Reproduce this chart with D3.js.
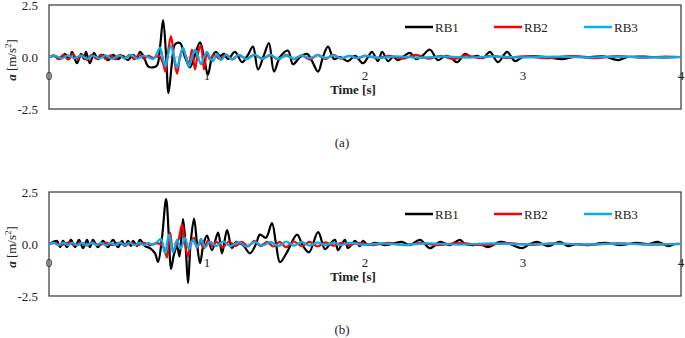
<!DOCTYPE html>
<html>
<head>
<meta charset="utf-8">
<script src="https://cdn.jsdelivr.net/npm/d3@7"></script>
<style>
  body { margin: 0; background: #fff; }
  text { font-family: "Liberation Serif", "Times New Roman", serif; fill: #222; }
</style>
</head>
<body>
<div id="chart"></div>
<script>
// series names and x ticks
var seriesNames = ["RB1", "RB2", "RB3"];
var xTicks = [0, 1, 2, 3, 4];
var yTicks = [2.5, 0, -2.5];

// panel (a) : [time s, acceleration m/s2]
var rb1A = [[0,0],[0.038,0.05],[0.070,-0.1],[0.101,0.15],[0.127,-0.1],[0.146,0.25],[0.177,-0.3],[0.203,0.15],[0.222,-0.1],[0.234,0.25],[0.259,-0.3],[0.285,0.2],[0.310,-0.1],[0.342,0.1],[0.373,-0.15],[0.405,0.1],[0.437,-0.1],[0.468,0.05],[0.500,-0.15],[0.532,0.1],[0.557,-0.05],[0.576,0.25],[0.601,0.0],[0.627,-0.45],[0.658,-0.5],[0.684,-0.4],[0.703,0.5],[0.722,1.78],[0.741,0.1],[0.756,-1.73],[0.778,-0.3],[0.797,0.6],[0.829,0.67],[0.861,0.0],[0.892,-0.5],[0.924,0.1],[0.956,0.7],[0.981,0.0],[1.006,-0.85],[1.032,0.0],[1.057,0.25],[1.082,0.05],[1.108,0.15],[1.133,-0.1],[1.177,0.25],[1.222,-0.25],[1.259,0.1],[1.291,0.5],[1.323,-0.6],[1.361,0.1],[1.392,0.67],[1.424,-0.7],[1.462,0.0],[1.513,0.3],[1.544,-0.35],[1.589,0.0],[1.633,0.15],[1.665,-0.2],[1.703,-0.7],[1.734,0.0],[1.766,0.5],[1.804,-0.1],[1.842,0.0],[1.892,-0.2],[1.937,0.05],[1.987,-0.3],[2.019,0.0],[2.044,0.25],[2.082,-0.2],[2.108,0.25],[2.146,-0.2],[2.177,0.0],[2.209,-0.15],[2.247,0.05],[2.285,0.2],[2.323,-0.1],[2.361,0.05],[2.411,0.35],[2.462,-0.15],[2.506,0.05],[2.538,0.0],[2.582,-0.25],[2.633,0.15],[2.671,0.0],[2.709,0.05],[2.747,-0.05],[2.791,0.25],[2.842,-0.25],[2.899,0.25],[2.949,-0.2],[3.0,0.0],[3.076,0.03],[3.171,-0.03],[3.247,-0.1],[3.329,0.02],[3.424,0.0],[3.519,0.02],[3.601,-0.15],[3.665,0.0],[3.772,0.02],[3.867,-0.02],[4.0,0]];
var rb2A = [[0,0],[0.03,0.08],[0.06,-0.1],[0.09,0.1],[0.12,-0.12],[0.15,0.15],[0.18,-0.1],[0.21,0.12],[0.24,-0.15],[0.27,0.1],[0.30,-0.08],[0.33,0.12],[0.36,-0.1],[0.39,0.08],[0.42,-0.12],[0.45,0.1],[0.48,-0.08],[0.51,0.1],[0.54,-0.1],[0.57,0.12],[0.60,-0.08],[0.63,0.06],[0.66,-0.05],[0.69,0.05],[0.703,0.0],[0.722,-0.3],[0.737,-0.7],[0.753,0.2],[0.772,1.0],[0.791,0.0],[0.810,-0.8],[0.829,0.0],[0.848,0.4],[0.867,0.0],[0.886,-0.3],[0.905,0.35],[0.924,-0.6],[0.943,0.2],[0.962,0.55],[0.981,-0.6],[1.0,0.2],[1.019,-0.1],[1.044,0.12],[1.08,-0.1],[1.12,0.12],[1.16,-0.12],[1.20,0.1],[1.25,-0.1],[1.30,0.12],[1.35,-0.1],[1.40,0.1],[1.45,-0.12],[1.50,0.1],[1.55,-0.1],[1.60,0.08],[1.65,-0.12],[1.70,0.1],[1.75,-0.1],[1.80,0.1],[1.85,-0.08],[1.90,0.06],[1.95,-0.06],[2.0,0.05],[2.08,-0.05],[2.16,0.06],[2.24,-0.08],[2.32,0.1],[2.40,-0.08],[2.48,0.06],[2.56,-0.1],[2.64,0.08],[2.72,-0.06],[2.80,0.05],[2.9,-0.04],[3.0,0.03],[3.15,-0.05],[3.3,0.04],[3.45,-0.05],[3.6,0.04],[3.75,-0.03],[3.9,0.02],[4.0,0]];
var rb3A = [[0,0],[0.04,0.06],[0.08,-0.07],[0.12,0.08],[0.16,-0.06],[0.20,0.07],[0.24,-0.08],[0.28,0.06],[0.32,-0.07],[0.36,0.08],[0.40,-0.1],[0.44,0.08],[0.48,-0.06],[0.52,0.1],[0.56,-0.08],[0.60,0.06],[0.64,-0.05],[0.66,-0.1],[0.684,0.2],[0.703,0.45],[0.722,-0.1],[0.737,-0.45],[0.753,0.1],[0.772,0.55],[0.791,0.0],[0.810,-0.5],[0.829,0.0],[0.848,0.45],[0.867,0.0],[0.886,-0.45],[0.905,0.0],[0.924,0.35],[0.943,0.0],[0.962,-0.35],[0.981,0.0],[1.0,0.25],[1.019,-0.05],[1.038,-0.2],[1.063,0.15],[1.089,-0.15],[1.12,0.1],[1.16,-0.12],[1.20,0.1],[1.25,-0.1],[1.30,0.12],[1.35,-0.08],[1.40,0.1],[1.45,-0.1],[1.50,0.08],[1.55,-0.1],[1.60,0.08],[1.65,-0.06],[1.70,0.1],[1.75,-0.05],[1.80,0.08],[1.85,-0.06],[1.90,0.05],[1.95,-0.05],[2.0,0.05],[2.1,-0.04],[2.2,0.03],[2.35,-0.04],[2.5,0.03],[2.65,-0.03],[2.8,0.03],[3.0,-0.02],[3.2,0.02],[3.4,-0.02],[3.6,0.02],[3.8,-0.02],[4.0,0]];

// panel (b)
var rb1B = [[0,0],[0.025,0.1],[0.051,0.15],[0.070,-0.15],[0.089,0.15],[0.114,-0.15],[0.139,0.2],[0.165,-0.15],[0.190,0.2],[0.215,-0.2],[0.241,0.2],[0.259,-0.15],[0.278,0.2],[0.310,-0.15],[0.342,0.15],[0.373,-0.15],[0.405,0.2],[0.437,-0.15],[0.462,0.15],[0.481,-0.1],[0.500,0.15],[0.519,-0.1],[0.532,0.15],[0.557,-0.1],[0.576,0.2],[0.608,-0.1],[0.639,-0.2],[0.671,-0.45],[0.690,-0.87],[0.715,0.3],[0.741,2.16],[0.759,0.3],[0.772,-1.2],[0.791,-0.5],[0.810,-0.1],[0.826,-0.6],[0.848,1.2],[0.864,0.0],[0.880,-1.88],[0.896,0.0],[0.918,1.22],[0.937,0.0],[0.956,-0.92],[0.978,0.0],[1.0,0.4],[1.032,-0.3],[1.070,0.55],[1.095,-0.45],[1.127,0.67],[1.158,-0.2],[1.184,0.1],[1.228,-0.05],[1.272,-0.45],[1.310,0.0],[1.335,0.45],[1.373,0.3],[1.411,1.0],[1.437,0.0],[1.462,-0.87],[1.506,-0.4],[1.570,0.45],[1.608,-0.1],[1.646,-0.4],[1.703,0.57],[1.747,-0.25],[1.778,0.0],[1.810,0.2],[1.829,-0.3],[1.854,0.0],[1.873,0.2],[1.892,-0.2],[1.918,0.0],[1.937,0.15],[1.968,-0.1],[1.987,0.15],[2.019,-0.05],[2.063,0.05],[2.127,-0.05],[2.190,0.05],[2.234,0.1],[2.285,-0.05],[2.348,0.2],[2.411,-0.2],[2.475,0.1],[2.538,-0.05],[2.601,0.2],[2.633,0.0],[2.684,-0.05],[2.728,0.0],[2.778,-0.15],[2.854,0.1],[2.918,0.0],[2.994,-0.2],[3.044,0.0],[3.089,0.1],[3.158,-0.1],[3.234,0.1],[3.285,-0.1],[3.342,0.0],[3.405,-0.05],[3.519,0.05],[3.614,-0.05],[3.722,0.05],[3.791,0.0],[3.854,0.1],[3.918,-0.1],[3.962,0.0],[4.0,0]];
var rb2B = [[0,0],[0.04,0.05],[0.08,-0.06],[0.12,0.07],[0.16,-0.05],[0.20,0.06],[0.24,-0.07],[0.28,0.05],[0.32,-0.06],[0.36,0.07],[0.40,-0.05],[0.44,0.06],[0.48,-0.07],[0.52,0.05],[0.56,-0.06],[0.60,0.06],[0.64,-0.05],[0.68,0.04],[0.703,0.0],[0.728,-0.2],[0.747,-0.65],[0.766,0.55],[0.785,-0.3],[0.804,-0.1],[0.823,0.3],[0.842,0.95],[0.861,0.0],[0.880,-0.6],[0.899,0.1],[0.918,0.3],[0.937,-0.2],[0.956,0.1],[0.981,-0.2],[1.006,0.15],[1.032,-0.1],[1.06,0.1],[1.10,-0.15],[1.14,0.12],[1.18,-0.1],[1.22,0.1],[1.26,-0.12],[1.30,0.15],[1.34,-0.1],[1.38,0.1],[1.42,-0.12],[1.46,0.1],[1.50,-0.15],[1.55,0.12],[1.60,-0.1],[1.65,0.1],[1.70,-0.12],[1.75,0.08],[1.80,-0.08],[1.85,0.06],[1.90,-0.06],[1.95,0.05],[2.05,-0.05],[2.15,0.06],[2.25,-0.06],[2.35,0.05],[2.45,-0.05],[2.6,0.04],[2.75,-0.05],[2.9,0.04],[3.05,-0.04],[3.2,0.03],[3.4,-0.04],[3.6,0.03],[3.8,-0.03],[4.0,0]];
var rb3B = [[0,0],[0.03,0.05],[0.06,-0.06],[0.09,0.07],[0.12,-0.05],[0.15,0.06],[0.18,-0.07],[0.21,0.05],[0.24,-0.06],[0.27,0.07],[0.30,-0.05],[0.33,0.06],[0.36,-0.07],[0.39,0.05],[0.42,-0.06],[0.45,0.07],[0.48,-0.05],[0.51,0.06],[0.54,-0.06],[0.57,0.05],[0.60,-0.05],[0.63,0.04],[0.66,-0.03],[0.684,0.1],[0.709,0.25],[0.734,-0.45],[0.759,0.45],[0.785,-0.4],[0.810,0.2],[0.835,-0.2],[0.861,0.3],[0.886,-0.25],[0.911,0.2],[0.937,-0.15],[0.962,0.25],[0.987,-0.15],[1.02,0.1],[1.06,-0.1],[1.10,0.12],[1.15,-0.1],[1.20,0.1],[1.25,-0.12],[1.30,0.1],[1.35,-0.08],[1.40,0.1],[1.45,-0.1],[1.50,0.12],[1.55,-0.08],[1.60,0.1],[1.65,-0.08],[1.70,0.08],[1.75,-0.06],[1.80,0.06],[1.85,-0.05],[1.90,0.05],[2.0,-0.04],[2.1,0.03],[2.25,-0.04],[2.4,0.03],[2.6,-0.03],[2.8,0.03],[3.0,-0.02],[3.2,0.02],[3.4,-0.02],[3.6,0.02],[3.8,-0.02],[4.0,0]];

var colors = ["#000000", "#ff0000", "#00b0f0"];

var W = 685, H = 338;
var plotLeft = 49, plotRight = 681, plotH = 104;

var svg = d3.select("#chart").append("svg")
    .attr("width", W)
    .attr("height", H)
    .style("display", "block");

svg.append("rect").attr("width", W).attr("height", H).attr("fill", "#fff");

var x = d3.scaleLinear().domain([0, 4]).range([plotLeft, plotRight]);

var panels = [
    {top: 5, series: [rb1A, rb2A, rb3A], caption: "(a)"},
    {top: 192, series: [rb1B, rb2B, rb3B], caption: "(b)"}
];

panels.forEach(function (p) {
    var y = d3.scaleLinear().domain([-2.5, 2.5]).range([p.top + plotH, p.top]);
    var g = svg.append("g");

    // frame
    g.append("rect")
        .attr("x", plotLeft)
        .attr("y", p.top)
        .attr("width", plotRight - plotLeft)
        .attr("height", plotH)
        .attr("fill", "none")
        .attr("stroke", "#333")
        .attr("stroke-width", 1.2);

    // zero axis line
    g.append("line")
        .attr("x1", plotLeft).attr("x2", plotRight)
        .attr("y1", y(0)).attr("y2", y(0))
        .attr("stroke", "#999").attr("stroke-width", 0.8);

    // y tick labels
    g.selectAll("text.ytick")
        .data(yTicks)
        .enter().append("text")
        .attr("class", "ytick")
        .attr("x", 38)
        .attr("y", function (d) { return y(d) + 4.5; })
        .attr("text-anchor", "end")
        .style("font-size", "13px")
        .text(function (d) { return d3.format(".1f")(d).replace("−", "-"); });

    // x tick labels sit under the zero line
    g.selectAll("text.xtick")
        .data(xTicks)
        .enter().append("text")
        .attr("class", "xtick")
        .attr("x", function (d) { return x(d); })
        .attr("y", y(0) + 23)
        .attr("text-anchor", "middle")
        .style("font-size", "13px")
        .text(function (d) { return d; });

    g.append("text")
        .attr("x", 353)
        .attr("y", y(0) + 37)
        .attr("text-anchor", "middle")
        .style("font-size", "13px")
        .style("font-weight", "bold")
        .text("Time [s]");

    // y title
    var yt = g.append("text")
        .attr("transform", "translate(16," + (y(0) + 3) + ") rotate(-90)")
        .attr("text-anchor", "middle")
        .style("font-size", "13px");
    yt.append("tspan").style("font-weight", "bold").style("font-style", "italic").text("a");
    yt.append("tspan").text(" [m/s");
    yt.append("tspan").attr("dy", -5).style("font-size", "9px").text("2");
    yt.append("tspan").attr("dy", 5).text("]");

    // lines
    var line = d3.line()
        .x(function (d) { return x(d[0]); })
        .y(function (d) { return y(d[1]); })
        .curve(d3.curveCatmullRom.alpha(0.5));

    var clipId = "clip" + p.top;
    g.append("clipPath").attr("id", clipId)
        .append("rect")
        .attr("x", plotLeft).attr("y", p.top)
        .attr("width", plotRight - plotLeft).attr("height", plotH);

    g.append("g").attr("clip-path", "url(#" + clipId + ")")
        .selectAll("path.series")
        .data(p.series)
        .enter().append("path")
        .attr("class", "series")
        .attr("d", line)
        .attr("fill", "none")
        .attr("stroke", function (d, i) { return colors[i]; })
        .attr("stroke-width", 2.2)
        .attr("stroke-linejoin", "round");

    // legend
    var legX = [405, 494, 584];
    var leg = g.selectAll("g.leg")
        .data(seriesNames)
        .enter().append("g")
        .attr("class", "leg")
        .attr("transform", function (d, i) { return "translate(" + legX[i] + "," + (p.top + 22) + ")"; });
    leg.append("line")
        .attr("x1", 0).attr("x2", 28)
        .attr("stroke", function (d, i) { return colors[i]; })
        .attr("stroke-width", 2.5);
    leg.append("text")
        .attr("x", 30)
        .attr("y", 4.5)
        .style("font-size", "13px")
        .text(function (d) { return d; });

    // caption
    g.append("text")
        .attr("x", 342)
        .attr("y", p.top + 142)
        .attr("text-anchor", "middle")
        .style("font-size", "13px")
        .text(p.caption);
});
</script>
</body>
</html>
